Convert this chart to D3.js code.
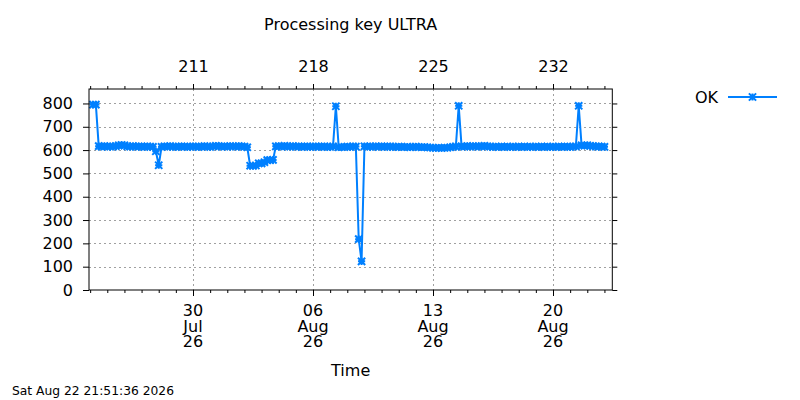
<!DOCTYPE html>
<html><head><meta charset="utf-8">
<script src="https://cdn.jsdelivr.net/npm/d3@7"></script>
<style>body{margin:0;background:#fff}svg{display:block}text{font-family:"DejaVu Sans",sans-serif;fill:#000}</style>
</head><body>
<svg id="c" width="800" height="400"></svg>
<script>
// ---- data ----
const chartTitle = "Processing key ULTRA";
const seriesName = "OK";
const xAxisTitle = "Time";
const timestampLabel = "Sat Aug 22 21:51:36 2026";
const sampleStart = "2026-07-24T04:00:00";
const sampleStepHours = 4;
const okValues = [
  795,795,617,615,617,615,616,615,617,620,
  622,620,616,615,617,615,616,615,614,616,
  615,614,595,535,614,616,615,617,615,614,
  615,616,615,614,615,616,615,614,615,617,
  615,614,616,618,617,615,616,615,617,616,
  615,617,616,615,612,533,532,534,543,543,
  548,557,557,558,616,617,615,618,616,615,
  617,615,616,614,615,616,614,615,616,614,
  615,616,613,614,616,788,612,613,614,615,
  614,616,615,218,123,616,615,616,614,616,
  615,616,614,615,616,614,613,615,614,613,
  614,612,614,615,613,612,613,612,611,610,
  609,610,609,610,610,612,614,616,790,615,
  616,617,615,617,616,615,617,618,616,615,
  614,615,614,615,614,615,614,615,614,615,
  614,615,614,615,614,615,614,615,614,615,
  614,615,614,615,614,615,615,614,615,616,
  790,620,619,621,618,617,615,616,615,614
];
const yTicks = [0,100,200,300,400,500,600,700,800];
const xMajorTickDates = ["2026-07-30T00:00:00","2026-08-06T00:00:00","2026-08-13T00:00:00","2026-08-20T00:00:00"];
const xDomain = ["2026-07-23T22:24:00","2026-08-23T11:01:00"];
const yDomain = [0, 862];

// ---- layout ----
const L = 89, R = 612.3, T = 89, B = 290;
const color = "#0080ff";
const FS = "16px";
const svg = d3.select("#c");

const x = d3.scaleTime().domain(xDomain.map(s => new Date(s))).range([L, R]);
const y = d3.scaleLinear().domain(yDomain).range([B, T]);

const t0 = new Date(sampleStart);
const data = okValues.map((v, i) => ({t: d3.timeHour.offset(t0, i * sampleStepHours), v}));
const majors = xMajorTickDates.map(s => new Date(s));
const minors = d3.timeDay.range(x.domain()[0], x.domain()[1]);

// grid
const grid = svg.append("g").attr("stroke", "#a0a0a0").attr("stroke-width", 1).attr("stroke-dasharray", "2,3");
grid.selectAll(".hg").data(yTicks.filter(d => d > 0)).join("line")
  .attr("x1", L).attr("x2", R).attr("y1", d => Math.round(y(d)) + 0.5).attr("y2", d => Math.round(y(d)) + 0.5);
grid.selectAll(".vg").data(majors).join("line")
  .attr("y1", T).attr("y2", B).attr("x1", d => Math.round(x(d)) + 0.5).attr("x2", d => Math.round(x(d)) + 0.5);

// axes
const bottomMinor = d3.axisBottom(x).tickValues(minors).tickSize(3).tickFormat("");
const bottomMajor = d3.axisBottom(x).tickValues(majors).tickSize(6).tickFormat("");
const topMinor = d3.axisTop(x).tickValues(minors).tickSize(3).tickFormat("");
const topMajor = d3.axisTop(x).tickValues(majors).tickSize(5).tickFormat(d3.timeFormat("%j"));
const leftAx = d3.axisLeft(y).tickValues(yTicks).tickSize(6).tickPadding(10);
const rightAx = d3.axisRight(y).tickValues(yTicks).tickSize(5).tickFormat("");

function style(g) {
  g.select(".domain").remove();
  g.selectAll(".tick line").attr("stroke", "#000");
  g.selectAll(".tick text").attr("font-size", FS).attr("font-family", "DejaVu Sans").attr("fill", "#000");
}
svg.append("g").attr("transform", `translate(0,${B})`).call(bottomMinor).call(style);
svg.append("g").attr("transform", `translate(0,${B})`).call(bottomMajor).call(style);
svg.append("g").attr("transform", `translate(0,${T})`).call(topMinor).call(style);
const tm = svg.append("g").attr("transform", `translate(0,${T})`).call(topMajor).call(style);
tm.selectAll(".tick text").attr("y", -17).attr("dy", 0);
svg.append("g").attr("transform", `translate(${L},0)`).call(leftAx).call(style);
svg.append("g").attr("transform", `translate(${R},0)`).call(rightAx).call(style);

// multi-line bottom labels
const fDay = d3.timeFormat("%d"), fMon = d3.timeFormat("%b"), fYr = d3.timeFormat("%y");
svg.append("g").selectAll("text").data(majors).join("text")
  .attr("x", d => x(d)).attr("y", 316).attr("text-anchor", "middle").attr("font-size", FS)
  .each(function(d) {
    const s = d3.select(this);
    [fDay(d), fMon(d), fYr(d)].forEach((line, k) => {
      s.append("tspan").attr("x", x(d)).attr("y", 316 + k * 15.5).text(line);
    });
  });

// data line + markers
svg.append("path").datum(data)
  .attr("fill", "none").attr("stroke", color).attr("stroke-width", 2)
  .attr("d", d3.line().x(d => x(d.t)).y(d => y(d.v)));

function star(g, cx, cy) {
  const r = 3.6;
  const p = `M${cx - r},${cy}L${cx + r},${cy}M${cx},${cy - r}L${cx},${cy + r}` +
            `M${cx - r},${cy - r}L${cx + r},${cy + r}M${cx - r},${cy + r}L${cx + r},${cy - r}`;
  g.append("path").attr("d", p).attr("stroke", color).attr("stroke-width", 2).attr("fill", "none");
}
const mk = svg.append("g");
data.forEach(d => star(mk, x(d.t), y(d.v)));

// border
svg.append("rect").attr("x", L).attr("y", T).attr("width", R - L).attr("height", B - T)
  .attr("fill", "none").attr("stroke", "#000").attr("stroke-width", 1);

// texts
svg.append("text").attr("x", (L + R) / 2).attr("y", 30).attr("text-anchor", "middle")
  .attr("font-size", FS).text(chartTitle);
svg.append("text").attr("x", (L + R) / 2).attr("y", 376).attr("text-anchor", "middle")
  .attr("font-size", FS).text(xAxisTitle);
svg.append("text").attr("x", 12).attr("y", 395).attr("font-size", "12.3px").text(timestampLabel);

// legend
svg.append("text").attr("x", 718).attr("y", 102.5).attr("text-anchor", "end")
  .attr("font-size", FS).text(seriesName);
svg.append("line").attr("x1", 728).attr("x2", 777).attr("y1", 97).attr("y2", 97)
  .attr("stroke", color).attr("stroke-width", 2);
star(svg.append("g"), 752.5, 97);
</script>
</body></html>
